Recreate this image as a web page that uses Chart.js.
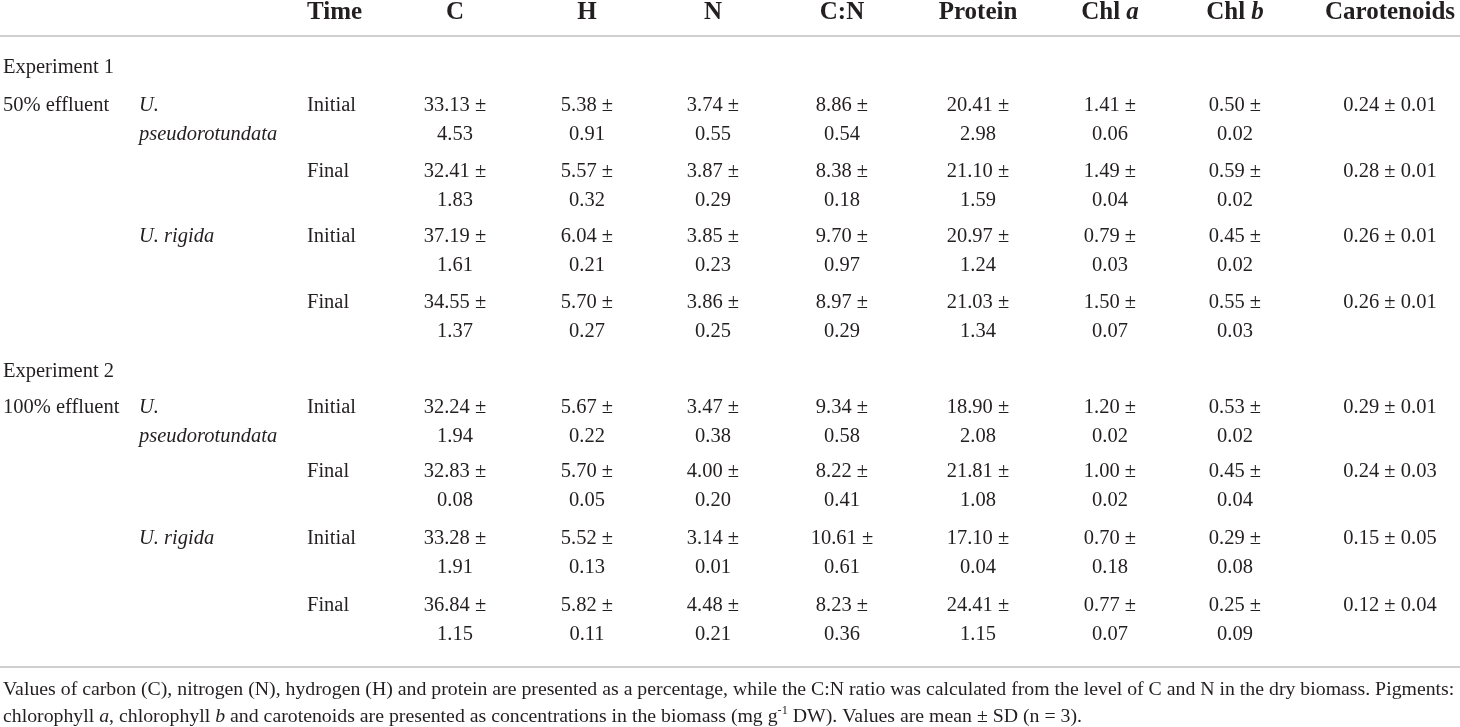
<!DOCTYPE html>
<html>
<head>
<meta charset="utf-8">
<title>Composition of Ulva biomass</title>
<script src="https://cdn.jsdelivr.net/npm/chart.js@4.4.0/dist/chart.umd.min.js"></script>
<style>
  html, body { margin: 0; padding: 0; background: #fff; }
  #wrap { width: 1460px; height: 727px; }
</style>
</head>
<body>
<div id="wrap"><canvas id="tabla" width="1460" height="727"></canvas></div>
<script>
// datos de la tabla ------------------------------------------------------------|

const columnas = ['C', 'H', 'N', 'C:N', 'Protein', 'Chl a', 'Chl b', 'Carotenoids'];
const experimentos = ['Experiment 1', 'Experiment 2'];
const efluentes = ['50% effluent', '100% effluent'];
const especies = ['U. pseudorotundata', 'U. rigida'];
const tiempos = ['Initial', 'Final'];

// media y SD por fila (Exp1: pseudo ini/fin, rigida ini/fin; Exp2: igual)
const cMedia = [33.13, 32.41, 37.19, 34.55, 32.24, 32.83, 33.28, 36.84];
const cSD = [4.53, 1.83, 1.61, 1.37, 1.94, 0.08, 1.91, 1.15];
const hMedia = [5.38, 5.57, 6.04, 5.70, 5.67, 5.70, 5.52, 5.82];
const hSD = [0.91, 0.32, 0.21, 0.27, 0.22, 0.05, 0.13, 0.11];
const nMedia = [3.74, 3.87, 3.85, 3.86, 3.47, 4.00, 3.14, 4.48];
const nSD = [0.55, 0.29, 0.23, 0.25, 0.38, 0.20, 0.01, 0.21];
const cnMedia = [8.86, 8.38, 9.70, 8.97, 9.34, 8.22, 10.61, 8.23];
const cnSD = [0.54, 0.18, 0.97, 0.29, 0.58, 0.41, 0.61, 0.36];
const protMedia = [20.41, 21.10, 20.97, 21.03, 18.90, 21.81, 17.10, 24.41];
const protSD = [2.98, 1.59, 1.24, 1.34, 2.08, 1.08, 0.04, 1.15];
const chlaMedia = [1.41, 1.49, 0.79, 1.50, 1.20, 1.00, 0.70, 0.77];
const chlaSD = [0.06, 0.04, 0.03, 0.07, 0.02, 0.02, 0.18, 0.07];
const chlbMedia = [0.50, 0.59, 0.45, 0.55, 0.53, 0.45, 0.29, 0.25];
const chlbSD = [0.02, 0.02, 0.02, 0.03, 0.02, 0.04, 0.08, 0.09];
const carMedia = [0.24, 0.28, 0.26, 0.26, 0.29, 0.24, 0.15, 0.12];
const carSD = [0.01, 0.01, 0.01, 0.01, 0.01, 0.03, 0.05, 0.04];

const medias = [cMedia, hMedia, nMedia, cnMedia, protMedia, chlaMedia, chlbMedia, carMedia];
const sds = [cSD, hSD, nSD, cnSD, protSD, chlaSD, chlbSD, carSD];

// layout (posiciones en unidades de los ejes) -----------------------------------|
const colX = [455, 587, 713, 842, 978, 1110, 1235, 1390];
const xExp = 3, xEspecie = 139, xTiempo = 307;
const filaY = [106, 172, 237, 303, 408, 472, 539, 606];
const expY = [68, 372];
const cabeceraY = 13;
const reglasY = [36, 667];
const notaY = [690, 717];
const salto = 29;

const FUENTE = '"Liberation Serif", "Times New Roman", serif';
const TINTA = '#231f20';

// dibuja un texto con trozos en cursiva / superindice
function texto(ctx, trozos, x, y, align, size, bold) {
    const fnt = (t) => (t.i ? 'italic ' : '') + (bold ? 'bold ' : '') +
        (t.sup ? size * 0.62 : size) + 'px ' + FUENTE;
    let ancho = 0;
    trozos.forEach(t => { ctx.font = fnt(t); ancho += ctx.measureText(t.t).width; });
    let cx = align === 'center' ? x - ancho / 2 : (align === 'right' ? x - ancho : x);
    ctx.textAlign = 'left';
    ctx.textBaseline = 'middle';
    trozos.forEach(t => {
        ctx.font = fnt(t);
        ctx.fillText(t.t, cx, t.sup ? y - size * 0.32 : y);
        cx += ctx.measureText(t.t).width;
    });
    return ancho;
}

const cabecera = (nombre) => {
    const m = nombre.match(/^Chl (a|b)$/);
    return m ? [{ t: 'Chl ' }, { t: m[1], i: true }] : [{ t: nombre }];
};

const nota1 = [{ t: 'Values of carbon (C), nitrogen (N), hydrogen (H) and protein are presented as a percentage, while the C:N ratio was calculated from the level of C and N in the dry biomass. Pigments:' }];
const nota2 = [
    { t: 'chlorophyll ' }, { t: 'a', i: true }, { t: ', chlorophyll ' }, { t: 'b', i: true },
    { t: ' and carotenoids are presented as concentrations in the biomass (mg g' }, { t: '-1', sup: true },
    { t: ' DW). Values are mean \u00b1 SD (n = 3).' }
];

const tablaPlugin = {
    id: 'tabla',
    afterDatasetsDraw(chart) {
        const ctx = chart.ctx;
        const sx = chart.scales.x, sy = chart.scales.y;
        ctx.save();

        // reglas horizontales
        ctx.strokeStyle = '#cfcfcf';
        ctx.lineWidth = 2;
        reglasY.forEach(v => {
            const y = sy.getPixelForValue(v);
            ctx.beginPath();
            ctx.moveTo(chart.chartArea.left, y);
            ctx.lineTo(chart.chartArea.right, y);
            ctx.stroke();
        });

        ctx.fillStyle = TINTA;
        const hy = sy.getPixelForValue(cabeceraY);
        texto(ctx, [{ t: 'Time' }], sx.getPixelForValue(xTiempo), hy, 'left', 25, true);
        columnas.forEach((col, c) => {
            texto(ctx, cabecera(col), sx.getPixelForValue(colX[c]), hy, 'center', 25, true);
        });

        // etiquetas de filas
        experimentos.forEach((e, k) => {
            texto(ctx, [{ t: e }], sx.getPixelForValue(xExp), sy.getPixelForValue(expY[k]), 'left', 20.5);
        });
        filaY.forEach((v, i) => {
            const y = sy.getPixelForValue(v);
            const exp = Math.floor(i / 4), esp = Math.floor(i / 2) % 2, tt = i % 2;
            if (esp === 0 && tt === 0) {
                texto(ctx, [{ t: efluentes[exp] }], sx.getPixelForValue(xExp), y, 'left', 20.5);
            }
            if (tt === 0) {
                const partes = especies[esp].split(' ');
                if (partes[1].length > 10) {
                    texto(ctx, [{ t: partes[0], i: true }], sx.getPixelForValue(xEspecie), y, 'left', 20.5);
                    texto(ctx, [{ t: partes[1], i: true }], sx.getPixelForValue(xEspecie), y + salto, 'left', 20.5);
                } else {
                    texto(ctx, [{ t: especies[esp], i: true }], sx.getPixelForValue(xEspecie), y, 'left', 20.5);
                }
            }
            texto(ctx, [{ t: tiempos[tt] }], sx.getPixelForValue(xTiempo), y, 'left', 20.5);
        });

        // celdas, en la posicion de cada punto del dataset
        chart.data.datasets.forEach((ds, c) => {
            const meta = chart.getDatasetMeta(c);
            meta.data.forEach((p, i) => {
                const m = medias[c][i].toFixed(2), s = sds[c][i].toFixed(2);
                if (c === columnas.length - 1) {
                    texto(ctx, [{ t: m + ' \u00b1 ' + s }], p.x, p.y, 'center', 20.5);
                } else {
                    texto(ctx, [{ t: m + ' \u00b1' }], p.x, p.y, 'center', 20.5);
                    texto(ctx, [{ t: s }], p.x, p.y + salto, 'center', 20.5);
                }
            });
        });

        // nota al pie, ajustada al ancho
        ctx.font = '18px ' + FUENTE;
        const w = ctx.measureText(nota1[0].t).width;
        const tam = 18 * (chart.chartArea.right - 5 - sx.getPixelForValue(xExp)) / w;
        texto(ctx, nota1, sx.getPixelForValue(xExp), sy.getPixelForValue(notaY[0]), 'left', tam);
        texto(ctx, nota2, sx.getPixelForValue(xExp), sy.getPixelForValue(notaY[1]), 'left', tam);

        ctx.restore();
    }
};

const datasets = columnas.map((col, c) => ({
    label: col,
    data: medias[c].map((v, i) => ({ x: colX[c], y: filaY[i], media: v, sd: sds[c][i] })),
    pointRadius: 0,
    showLine: false
}));

const ctx = document.getElementById('tabla');
var tabla = new Chart(ctx, {
    type: 'scatter',
    data: { datasets: datasets },
    options: {
        responsive: false,
        animation: false,
        events: [],
        layout: { padding: 0 },
        plugins: { legend: { display: false }, tooltip: { enabled: false } },
        scales: {
            x: { type: 'linear', min: 0, max: 1460, display: false },
            y: { type: 'linear', min: 0, max: 727, reverse: true, display: false }
        }
    },
    plugins: [tablaPlugin]
});
</script>
</body>
</html>
